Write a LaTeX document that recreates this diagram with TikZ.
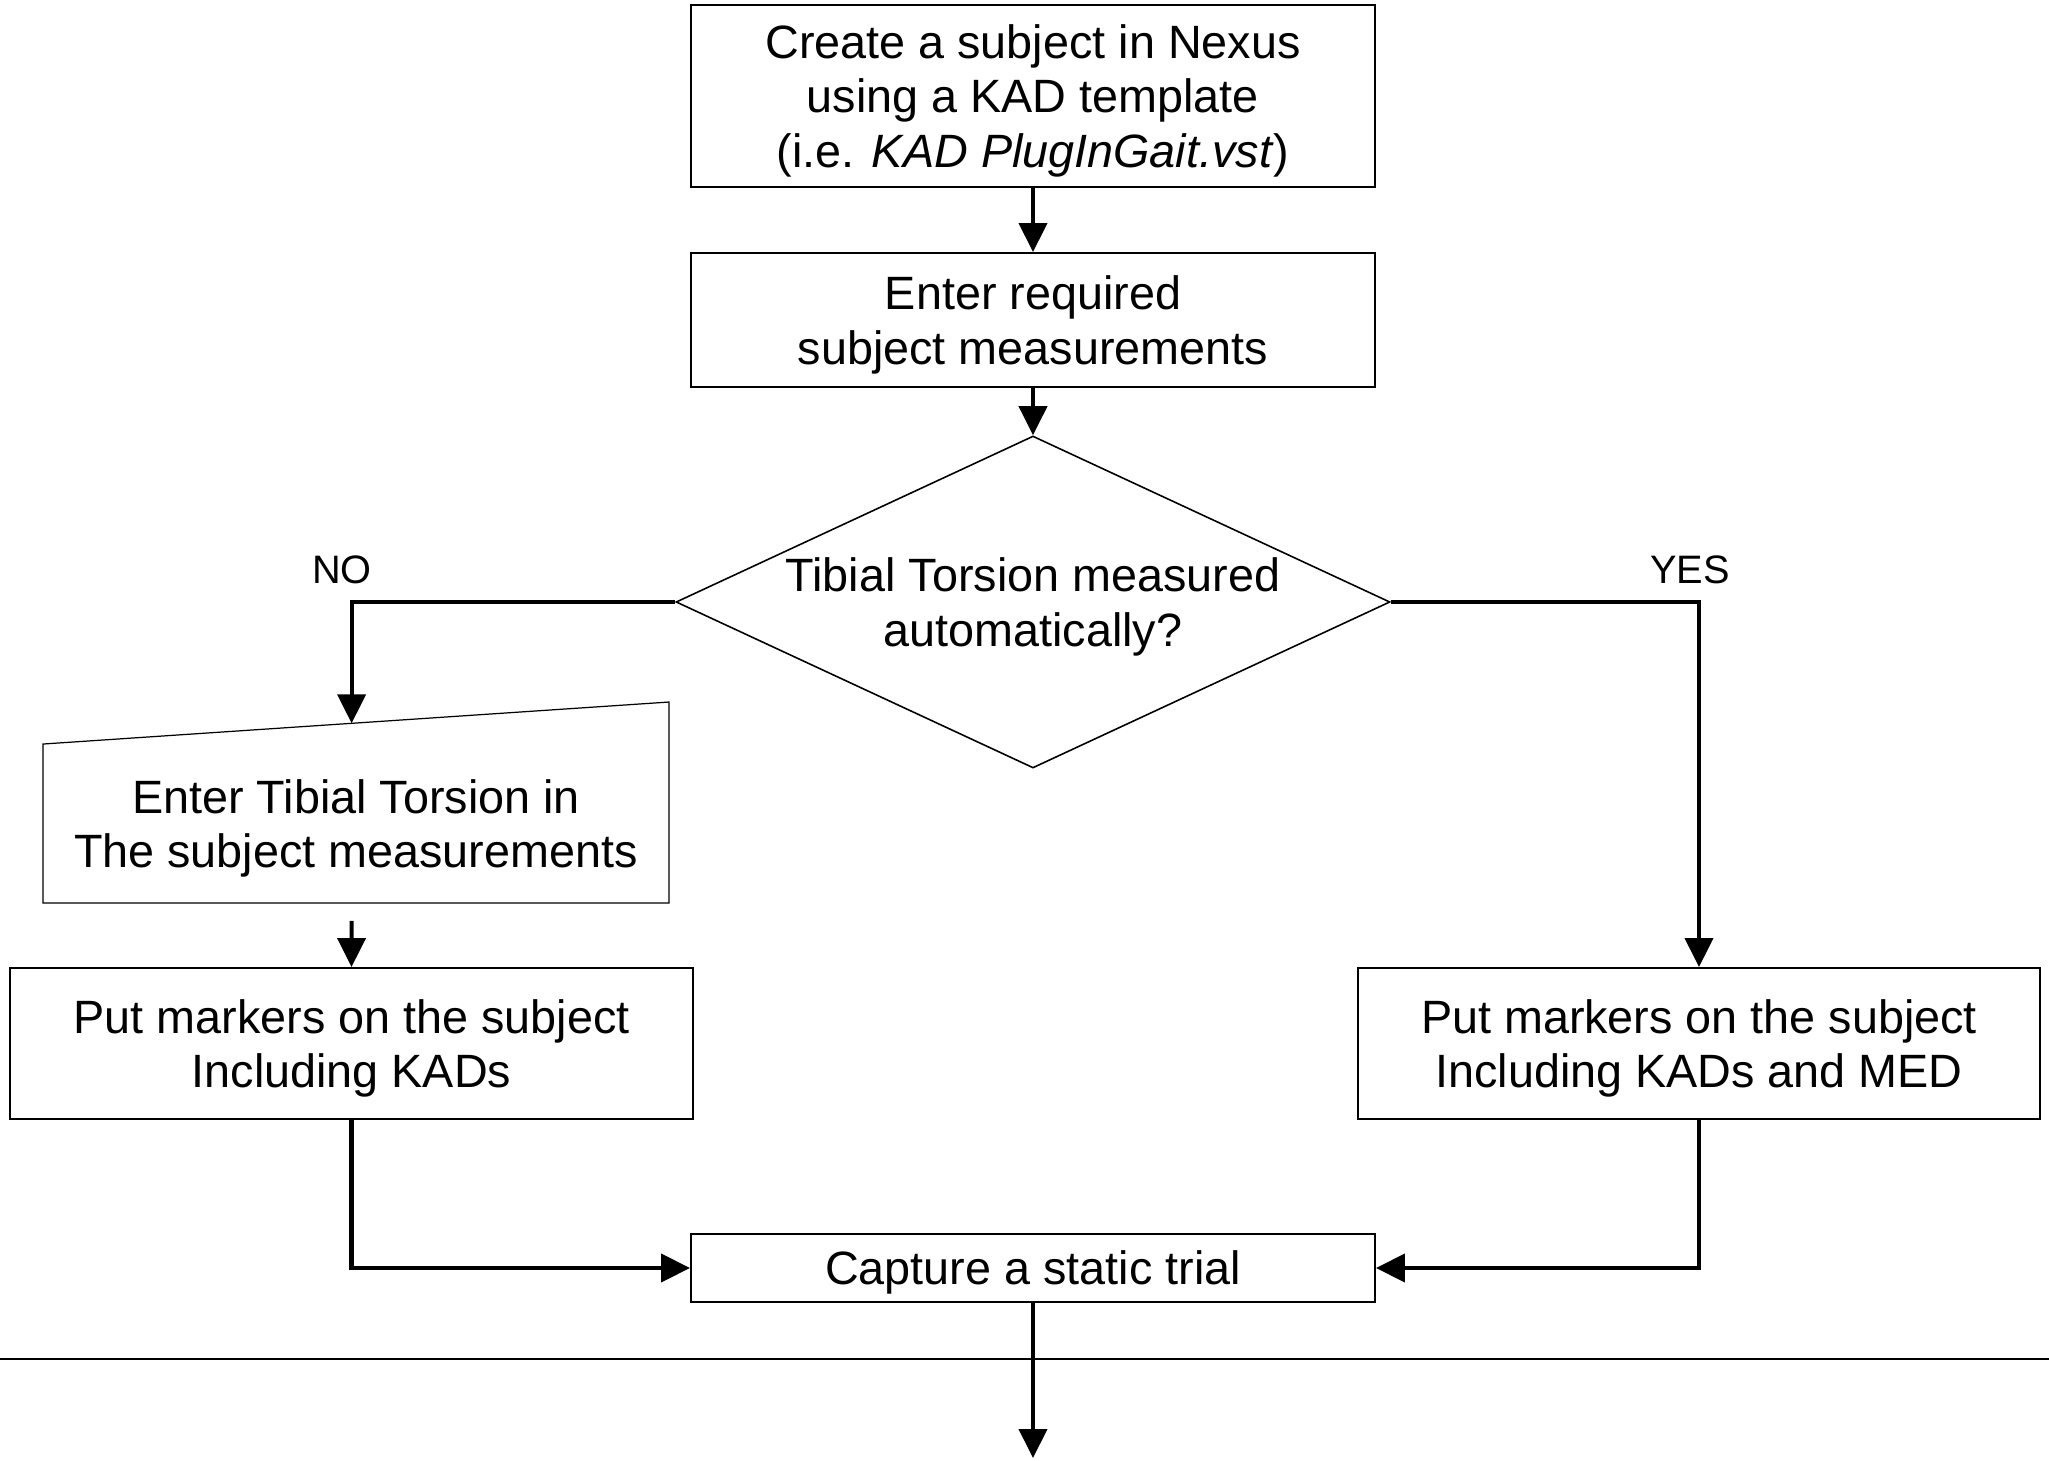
\documentclass[tikz,border=0pt]{standalone}
\usepackage{fontspec}
\setmainfont{Liberation Sans}
\usetikzlibrary{calc,shapes.geometric,arrows.meta}

\begin{document}
\begin{tikzpicture}[
                box/.style={draw,line width=0.55pt,minimum width=6.84cm,align=center,inner sep=0pt,font=\fontsize{13.3}{15.6}\selectfont,text depth=-0.8pt},
                decision/.style={diamond,draw,line width=0.45pt,aspect=2.15,minimum width=7.14cm,minimum height=3.32cm,inner sep=0pt,align=center,font=\fontsize{13.3}{15.6}\selectfont,text depth=-0.8pt},
                conn/.style={line width=1.15pt,-{Triangle[length=0.29cm,width=0.28cm]}},
                answer/.style={font=\fontsize{11.3}{13}\selectfont}
                ]
                \useasboundingbox (0,0) rectangle (20.49,-14.61);
                \node [box, minimum height=1.82cm] (create) at (10.33,-0.96) {Create a subject in Nexus\\using a KAD template\\(i.e. \textit{KAD PlugInGait.vst})};
                \node [box, minimum height=1.34cm] (enter) at (10.33,-3.20) {Enter required\\subject measurements};
                \node [decision] (check) at (10.33,-6.02) {\makebox[4.6cm]{Tibial Torsion measured}\\\makebox[4.6cm]{automatically?}};
                \node [box, draw=none, minimum width=6.24cm, minimum height=1.57cm] (tibial) at (3.56,-8.235) {Enter Tibial Torsion in\\The subject measurements};
                \draw [line width=0.35pt] (tibial.south west) -- (tibial.south east) -- ($(tibial.north east)+(0,0.42)$) -- coordinate[pos=0.507] (tibialtop) (tibial.north west) -- cycle;
                \node [box, minimum width=6.83cm, minimum height=1.51cm] (leftmark) at (3.515,-10.435) {Put markers on the subject\\Including KADs};
                \node [box, minimum width=6.82cm, minimum height=1.51cm] (rightmark) at (16.99,-10.435) {Put markers on the subject\\Including KADs and MED};
                \node [box, minimum height=0.68cm] (capture) at (10.33,-12.68) {Capture a static trial};
                \coordinate (exit) at (10.33,-14.58);
                \node [answer] (no) at (3.42,-5.70) {NO};
                \node [answer] (yes) at (16.90,-5.70) {YES};
                \draw [conn] (create) -- (enter);
                \draw [conn] (enter) -- (check);
                \draw [conn] (check.west) -| (tibialtop);
                \draw [conn] (check.east) -| (rightmark.north);
                \draw [conn, shorten <=0.18cm] (tibial.south -| tibialtop) -- (leftmark.north);
                \draw [conn] (leftmark.south) |- (capture.west);
                \draw [conn] (rightmark.south) |- (capture.east);
                \draw [line width=0.3pt] (0,-13.59) -- (20.49,-13.59);
                \draw [conn] (capture.south) -- (exit);
            \end{tikzpicture}
\end{document}
